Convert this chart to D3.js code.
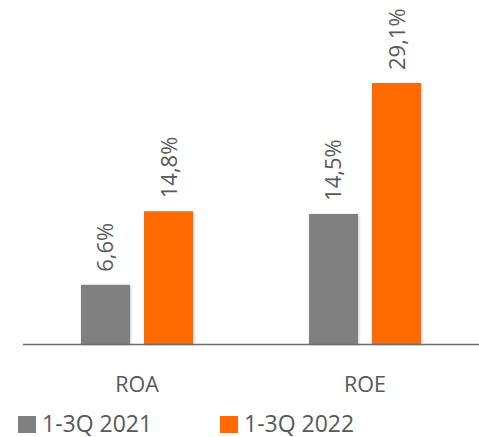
<!DOCTYPE html>
<html>
<head>
<meta charset="utf-8">
<script src="https://cdn.jsdelivr.net/npm/d3@7/dist/d3.min.js"></script>
<style>
  html, body { margin: 0; padding: 0; background: #fff; }
  svg { display: block; font-family: "Open Sans", "Noto Sans", sans-serif; }
</style>
</head>
<body>
<svg id="chart" width="479" height="437"></svg>
<script>
// Profitability ratios, nine months of each year
const categories = ["ROA", "ROE"];
const seriesNames = ["1-3Q 2021", "1-3Q 2022"];
const values2021 = [6.6, 14.5];
const values2022 = [14.8, 29.1];
const seriesColors = ["#808080", "#FF6A00"];

const fmt = v => d3.format(".1f")(v).replace(".", ",") + "%";

const svg = d3.select("#chart");
const W = 479;
const baseY = 344;
const axisX0 = 23;

const x0 = d3.scaleBand().domain(categories).range([axisX0, W]).paddingInner(0).paddingOuter(0);
const x1 = d3.scaleBand().domain(seriesNames).range([0, x0.bandwidth()]).paddingInner(0.222).paddingOuter(0.92);
const y = d3.scaleLinear().domain([0, 29.1]).range([baseY, 83]);

const data = categories.map((c, i) => ({
  cat: c,
  items: [
    { s: seriesNames[0], v: values2021[i], color: seriesColors[0] },
    { s: seriesNames[1], v: values2022[i], color: seriesColors[1] }
  ]
}));

const defs = svg.append("defs");
const f = defs.append("filter").attr("id", "shadow").attr("x", "-20%").attr("y", "-20%").attr("width", "140%").attr("height", "140%");
f.append("feDropShadow").attr("dx", 0.8).attr("dy", 0.8).attr("stdDeviation", 0.8).attr("flood-color", "#000").attr("flood-opacity", 0.25);

const groups = svg.selectAll("g.cat").data(data).join("g")
  .attr("class", "cat")
  .attr("transform", d => `translate(${x0(d.cat)},0)`);

groups.selectAll("rect").data(d => d.items).join("rect")
  .attr("x", d => x1(d.s))
  .attr("y", d => y(d.v))
  .attr("width", x1.bandwidth())
  .attr("height", d => baseY - y(d.v))
  .attr("fill", d => d.color)
  .attr("filter", "url(#shadow)");

groups.selectAll("text.val").data(d => d.items).join("text")
  .attr("class", "val")
  .attr("transform", d => `translate(${x1(d.s) + x1.bandwidth() / 2 + 8},${y(d.v) - 13}) rotate(-90)`)
  .attr("text-anchor", "start")
  .attr("font-size", 22)
  .attr("fill", "#595959")
  .text(d => fmt(d.v));

// Baseline
svg.append("line")
  .attr("x1", axisX0).attr("x2", W)
  .attr("y1", baseY + 0.5).attr("y2", baseY + 0.5)
  .attr("stroke", "#6e6e6e").attr("stroke-width", 1.5);

// Category axis labels
const xAxis = d3.axisBottom(x0).tickSize(0).tickPadding(0);
const gx = svg.append("g").attr("transform", `translate(0,${baseY + 48})`).call(xAxis);
gx.select(".domain").remove();
gx.selectAll("text")
  .attr("dy", 0)
  .attr("font-size", 21.5)
  .attr("font-family", "\"Open Sans\", sans-serif")
  .attr("fill", "#595959");

// Legend
const legendX = [18, 220];
const legend = svg.selectAll("g.leg").data(seriesNames).join("g")
  .attr("class", "leg")
  .attr("transform", (d, i) => `translate(${legendX[i]},416)`);
legend.append("rect")
  .attr("width", 18).attr("height", 17)
  .attr("fill", (d, i) => seriesColors[i]);
legend.append("text")
  .attr("x", 24).attr("y", 15.5)
  .attr("font-size", 23)
  .attr("fill", "#595959")
  .text(d => d);
</script>
</body>
</html>
